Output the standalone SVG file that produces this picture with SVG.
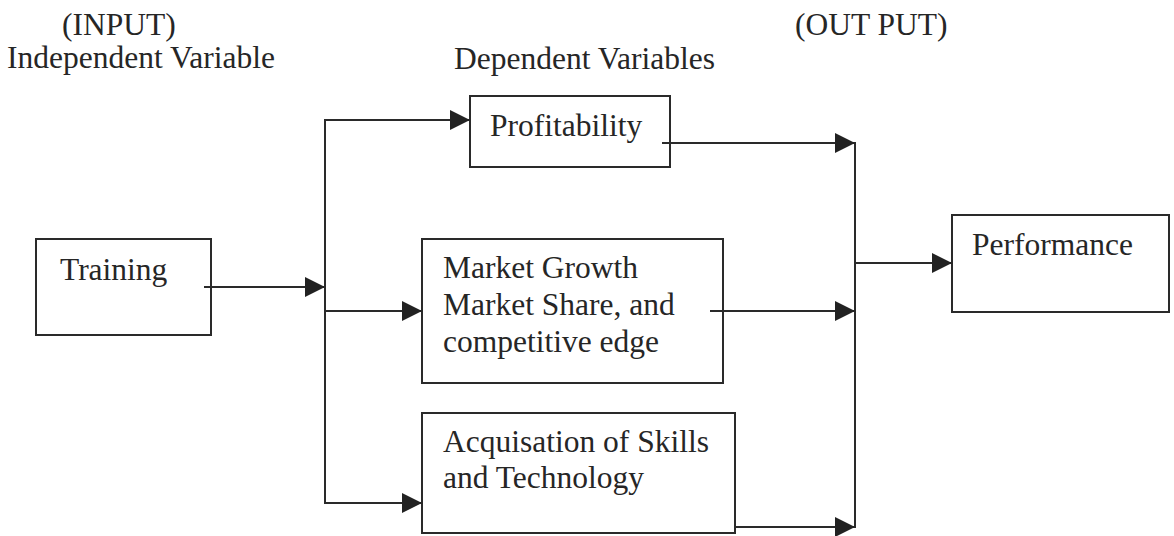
<svg xmlns="http://www.w3.org/2000/svg" width="1174" height="536" viewBox="0 0 1174 536">
<style>
  text { font-family: "Liberation Serif", "Times New Roman", serif; font-size: 31.5px; fill: #262626; }
  .box { fill: #ffffff; stroke: #2a2a2a; stroke-width: 2; }
  .wire { fill: none; stroke: #2a2a2a; stroke-width: 2; }
</style>
<defs>
  <marker id="arrow" markerUnits="userSpaceOnUse" markerWidth="20" markerHeight="20" refX="20" refY="10" orient="auto" viewBox="0 0 20 20">
    <path d="M0,0 L20,10 L0,20 Z" fill="#222222"/>
  </marker>
</defs>
<rect width="1174" height="536" fill="#ffffff"/>

<g id="headings">
  <text x="62" y="35">(INPUT)</text>
  <text x="7" y="68">Independent Variable</text>
  <text x="454" y="69">Dependent Variables</text>
  <text x="795" y="35">(OUT PUT)</text>
</g>

<g id="node-training">
  <rect class="box" x="36" y="239" width="175" height="96"/>
  <text x="60" y="280">Training</text>
</g>

<g id="node-profitability">
  <rect class="box" x="470" y="96" width="200" height="71"/>
  <text x="490" y="136">Profitability</text>
</g>

<g id="node-market">
  <rect class="box" x="422" y="239" width="301" height="144"/>
  <text x="443" y="278">Market Growth</text>
  <text x="443" y="315">Market Share, and</text>
  <text x="443" y="352">competitive edge</text>
</g>

<g id="node-skills">
  <rect class="box" x="422" y="413" width="313" height="120"/>
  <text x="443" y="452">Acquisation of Skills</text>
  <text x="443" y="488">and Technology</text>
</g>

<g id="node-performance">
  <rect class="box" x="952" y="215" width="217" height="97"/>
  <text x="972" y="255">Performance</text>
</g>

<g id="connectors">
  <line class="wire" x1="204" y1="287" x2="325" y2="287" marker-end="url(#arrow)"/>
  <line class="wire" x1="325" y1="119" x2="325" y2="504"/>
  <line class="wire" x1="324" y1="120" x2="470" y2="120" marker-end="url(#arrow)"/>
  <line class="wire" x1="325" y1="311" x2="422" y2="311" marker-end="url(#arrow)"/>
  <line class="wire" x1="324" y1="503" x2="422" y2="503" marker-end="url(#arrow)"/>
  <line class="wire" x1="855" y1="142" x2="855" y2="528"/>
  <line class="wire" x1="662" y1="143" x2="855" y2="143" marker-end="url(#arrow)"/>
  <line class="wire" x1="710" y1="311" x2="855" y2="311" marker-end="url(#arrow)"/>
  <line class="wire" x1="735" y1="527" x2="855" y2="527" marker-end="url(#arrow)"/>
  <line class="wire" x1="855" y1="263" x2="952" y2="263" marker-end="url(#arrow)"/>
</g>
</svg>
